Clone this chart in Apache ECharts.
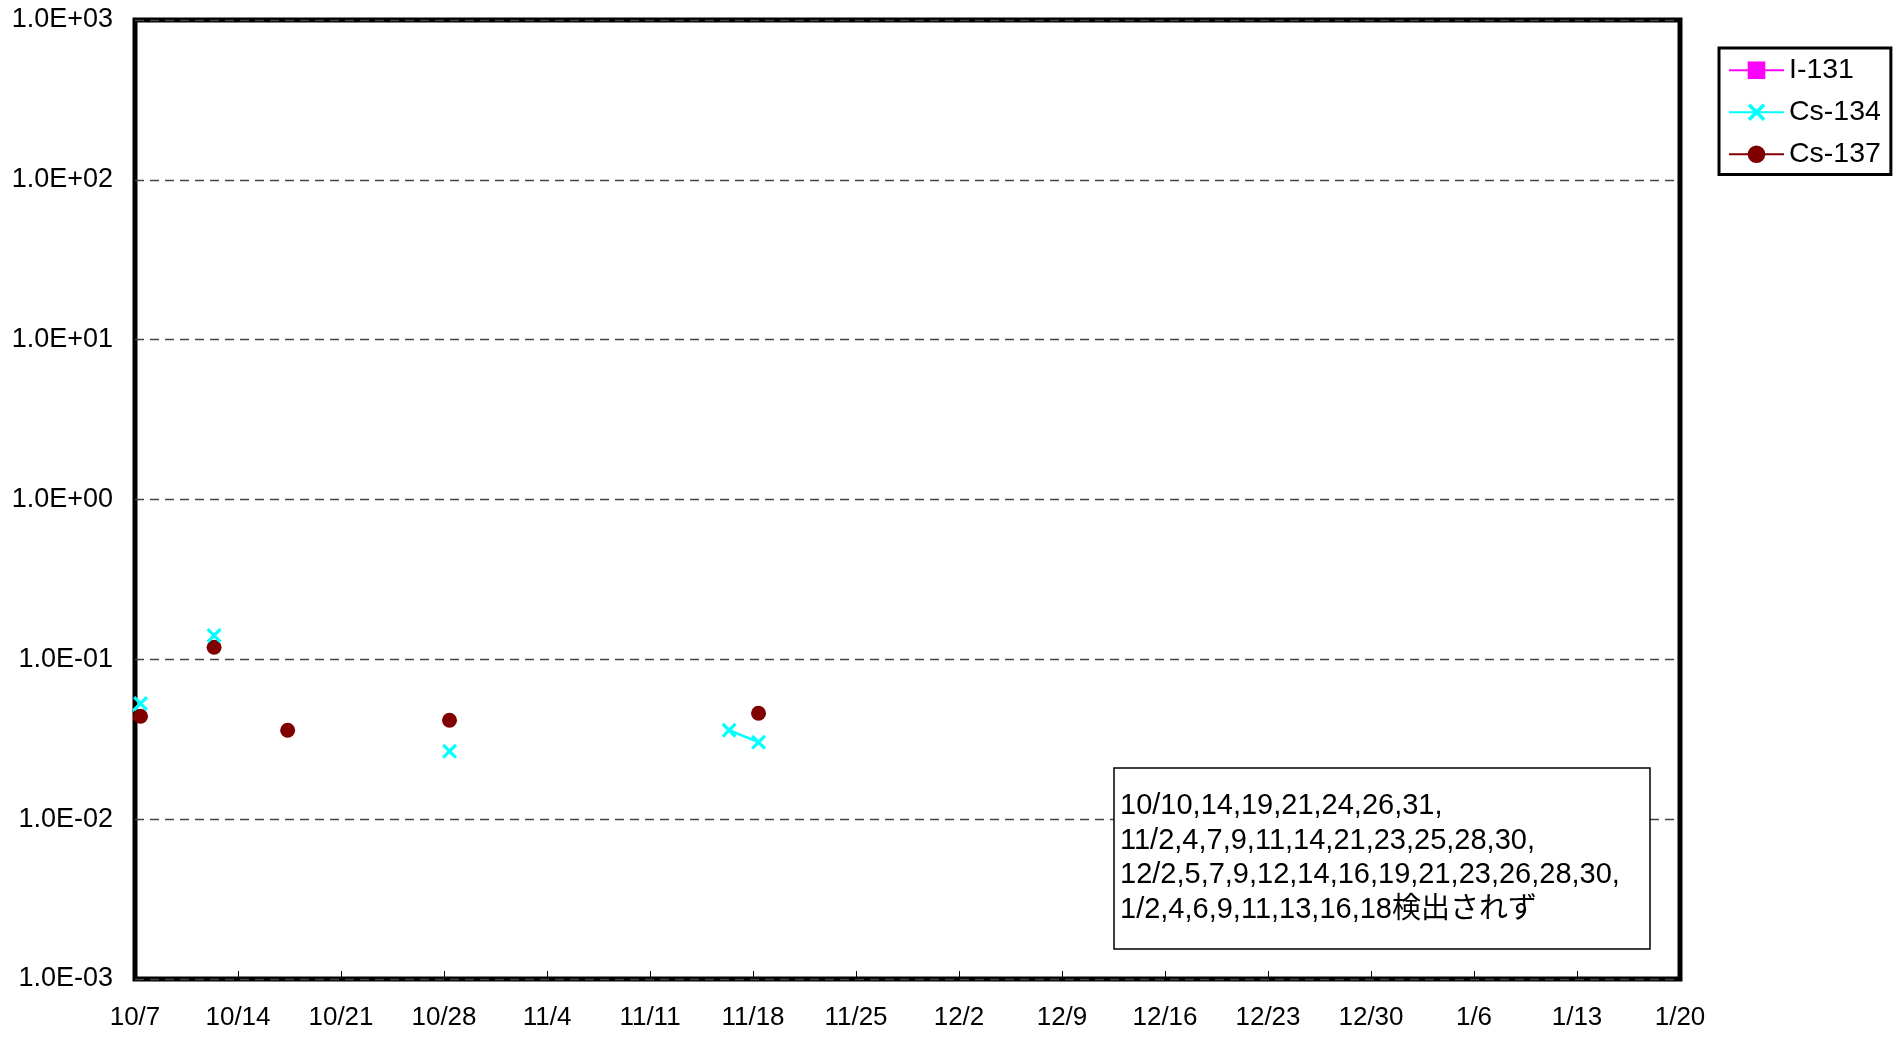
<!DOCTYPE html>
<html>
<head>
<meta charset="utf-8">
<script src="https://cdn.jsdelivr.net/npm/echarts@6/dist/echarts.min.js"></script>
<style>
html,body{margin:0;padding:0;background:#fff;}
#c{width:1901px;height:1037px;}
</style>
</head>
<body>
<div id="c"></div>
<script>
// ---- data ----
const axisStart = '2011-10-07';
const obsTime = '09:00:00Z';
const dates = [
  '2011-10-05','2011-10-07','2011-10-10','2011-10-12','2011-10-14','2011-10-17','2011-10-19','2011-10-21','2011-10-24','2011-10-26','2011-10-28','2011-10-31',
  '2011-11-02','2011-11-04','2011-11-07','2011-11-09','2011-11-11','2011-11-14','2011-11-16','2011-11-18','2011-11-21','2011-11-23','2011-11-25','2011-11-28','2011-11-30',
  '2011-12-02','2011-12-05','2011-12-07','2011-12-09','2011-12-12','2011-12-14','2011-12-16','2011-12-19','2011-12-21','2011-12-23','2011-12-26','2011-12-28','2011-12-30',
  '2012-01-02','2012-01-04','2012-01-06','2012-01-09','2012-01-11','2012-01-13','2012-01-16','2012-01-18'
];
const i131 = dates.map(() => null);
const cs134 = [
  0.035, 0.053, null, 0.141, null, null, null, null, null, null, 0.0266, null,
  null, null, null, null, null, null, 0.036, 0.0303, null, null, null, null, null,
  null, null, null, null, null, null, null, null, null, null, null, null, null,
  null, null, null, null, null, null, null, null
];
const cs137 = [
  0.038, 0.044, null, 0.119, null, 0.036, null, null, null, null, 0.0416, null,
  null, null, null, null, null, null, null, 0.046, null, null, null, null, null,
  null, null, null, null, null, null, null, null, null, null, null, null, null,
  null, null, null, null, null, null, null, null
];
const xTickLabels = ['10/7','10/14','10/21','10/28','11/4','11/11','11/18','11/25','12/2','12/9','12/16','12/23','12/30','1/6','1/13','1/20'];
const yTickLabels = ['1.0E-03','1.0E-02','1.0E-01','1.0E+00','1.0E+01','1.0E+02','1.0E+03'];
const seriesNames = ['I-131','Cs-134','Cs-137'];
const noteLines = [
  '10/10,14,19,21,24,26,31,',
  '11/2,4,7,9,11,14,21,23,25,28,30,',
  '12/2,5,7,9,12,14,16,19,21,23,26,28,30,',
  '1/2,4,6,9,11,13,16,18検出されず'
];

// ---- build ----
const t0 = Date.parse(axisStart + 'T00:00:00Z');
const toDay = d => (Date.parse(d + 'T' + obsTime) - t0) / 86400000;
const pairs = arr => dates.map((d, i) => [toDay(d), arr[i] == null ? '-' : arr[i]]);

const FONT = "'Liberation Sans', Arial, 'Noto Sans CJK JP', sans-serif";
const crossPath = 'path://M0,1.5L1.5,0L10,8.5L8.5,10Z M8.5,0L10,1.5L1.5,10L0,8.5Z';

const chart = echarts.init(document.getElementById('c'), null, {renderer: 'canvas'});
chart.setOption({
  animation: false,
  backgroundColor: '#fff',
  grid: {
    left: 135, right: 221, top: 20, bottom: 58,
    show: true, borderColor: '#000', borderWidth: 5, backgroundColor: 'transparent'
  },
  legend: {
    orient: 'vertical',
    left: 1719, top: 48,
    padding: [8, 10, 6, 9],
    itemGap: 13.5,
    itemWidth: 55, itemHeight: 22,
    borderColor: '#000', borderWidth: 3,
    backgroundColor: '#fff',
    textStyle: {fontFamily: FONT, fontSize: 28.5, color: '#000'},
    data: seriesNames
  },
  xAxis: {
    type: 'value', min: 0, max: 105, interval: 7,
    axisLine: {show: false},
    axisTick: {show: true, inside: true, length: 8, lineStyle: {color: '#000', width: 1}},
    splitLine: {show: false},
    axisLabel: {
      margin: 26, fontFamily: FONT, fontSize: 26, color: '#000',
      formatter: v => xTickLabels[Math.round(v / 7)]
    }
  },
  yAxis: {
    type: 'log', logBase: 10, min: 0.001, max: 1000,
    axisLine: {show: false},
    axisTick: {show: false},
    splitLine: {show: true, lineStyle: {color: '#444', width: 1.3, type: [9, 6]}},
    axisLabel: {
      margin: 22, fontFamily: FONT, fontSize: 27, color: '#000',
      formatter: v => yTickLabels[Math.round(Math.log10(v)) + 3]
    }
  },
  series: [
    {
      name: seriesNames[0], type: 'line', data: pairs(i131),
      symbol: 'rect', symbolSize: 13, color: '#FF00FF',
      lineStyle: {color: '#FF00FF', width: 2}, clip: true
    },
    {
      name: seriesNames[1], type: 'line', data: pairs(cs134),
      symbol: crossPath, symbolSize: 15, color: '#00FFFF',
      lineStyle: {color: '#00FFFF', width: 2.5}, clip: true, z: 3
    },
    {
      name: seriesNames[2], type: 'line', data: pairs(cs137),
      symbol: 'circle', symbolSize: 15, color: '#800000',
      lineStyle: {color: '#800000', width: 2.5}, clip: true, z: 2
    }
  ],
  graphic: [
    {
      type: 'rect', z: 100,
      shape: {x: 1114, y: 768, width: 536, height: 181},
      style: {fill: '#fff', stroke: '#000', lineWidth: 1.5}
    },
    {
      type: 'text', z: 101, x: 1120, y: 789,
      style: {
        text: noteLines.join('\n'), fill: '#000',
        font: "29px " + FONT, lineHeight: 34.5, verticalAlign: 'top', align: 'left'
      }
    }
  ]
});
</script>
</body>
</html>
